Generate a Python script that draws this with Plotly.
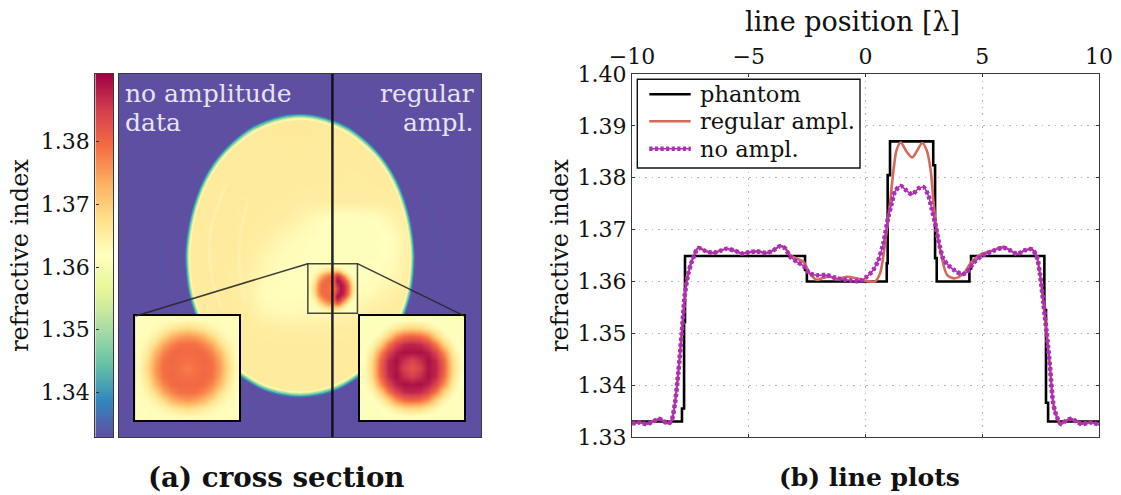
import numpy as np
import plotly.graph_objects as go

W, H = 1121, 495
FONT = "DejaVu Serif"
Z_MIN, Z_MAX = 1.3329, 1.3908

# ---- line plot data (position in wavelengths, refractive index) ----
phantom_x = [-10, -7.86, -7.86, -7.77, -7.77, -7.73, -7.73, -2.59, -2.59, -2.51, -2.51, 0.91, 0.91, 0.95, 0.95,
             1.05, 1.05, 2.90, 2.90, 2.98, 2.98, 3.05, 3.05, 4.45, 4.45, 4.52, 4.52, 7.66, 7.66, 7.73, 7.73, 7.82, 7.82, 10]
phantom_y = [1.333, 1.333, 1.3355, 1.3355, 1.3522, 1.3522, 1.3649, 1.3649, 1.3622, 1.3622, 1.36, 1.36, 1.3635, 1.3635, 1.3805,
             1.3805, 1.387, 1.387, 1.3824, 1.3824, 1.3645, 1.3645, 1.36, 1.36, 1.3625, 1.3625, 1.3649, 1.3649, 1.3545, 1.3545, 1.3366, 1.3366, 1.333, 1.333]

noampl_x = [-10, -9.66, -9.37, -9.09, -8.83, -8.66, -8.44, -8.30, -8.16, -8.02, -7.87, -7.73, -7.59, -7.44, -7.16,
            -6.87, -6.52, -6.23, -5.95, -5.59, -5.30, -5.02, -4.66, -4.23, -3.95, -3.66, -3.45, -3.23, -2.95, -2.66,
            -2.38, -2.09, -1.66, -1.23, -0.81, -0.24, 0.05, 0.33, 0.55, 0.76, 0.98, 1.12, 1.26, 1.51, 1.76, 2.0, 2.26,
            2.48, 2.69, 2.83, 2.98, 3.12, 3.33, 3.55, 3.83, 4.12, 4.33, 4.62, 4.97, 5.47, 5.90, 6.19, 6.50, 6.83, 7.12,
            7.33, 7.47, 7.62, 7.76, 7.90, 8.04, 8.19, 8.37, 8.54, 8.79, 9.04, 9.26, 9.61, 10]
noampl_y = [1.3326, 1.3328, 1.3325, 1.3330, 1.3335, 1.3331, 1.3326, 1.3333, 1.3365, 1.3423, 1.3500, 1.3577, 1.3615, 1.3638, 1.3664,
            1.3659, 1.3655, 1.3659, 1.3663, 1.3659, 1.3654, 1.3656, 1.3658, 1.3655, 1.3660, 1.3668, 1.3664, 1.3648, 1.3638, 1.3630,
            1.3615, 1.3612, 1.3612, 1.3606, 1.3603, 1.3601, 1.3609, 1.3622, 1.3641, 1.3673, 1.3725, 1.3750, 1.3773, 1.3784, 1.3775, 1.3768, 1.3779,
            1.3782, 1.3766, 1.3741, 1.3712, 1.3680, 1.3644, 1.3631, 1.3621, 1.3614, 1.3617, 1.3635, 1.3649, 1.3659, 1.3665, 1.3660, 1.3653, 1.3660, 1.3662,
            1.3648, 1.3615, 1.3558, 1.3500, 1.3436, 1.3365, 1.3339, 1.3325, 1.3330, 1.3335, 1.3330, 1.3325, 1.3328, 1.3324]

regular_x = [-10, -9.66, -9.37, -9.09, -8.83, -8.66, -8.44, -8.30, -8.16, -8.02, -7.87, -7.73, -7.59, -7.44, -7.16,
             -6.87, -6.52, -6.23, -5.95, -5.59, -5.30, -5.02, -4.66, -4.23, -3.95, -3.66, -3.45, -3.23, -2.95, -2.66,
             -2.38, -2.09, -1.81, -1.52, -1.23, -0.81, -0.38, 0.05, 0.41, 0.62, 0.76, 0.91, 1.05, 1.12, 1.33, 1.51, 1.76, 2.0, 2.22,
             2.43, 2.62, 2.79, 2.93, 3.08, 3.26, 3.5, 3.83, 4.19, 4.55, 4.97, 5.47, 5.90, 6.19, 6.50, 6.83, 7.12,
             7.33, 7.47, 7.62, 7.76, 7.90, 8.04, 8.19, 8.37, 8.54, 8.79, 9.04, 9.26, 9.61, 10]
regular_y = [1.3326, 1.3328, 1.3325, 1.3330, 1.3335, 1.3331, 1.3326, 1.3333, 1.3365, 1.3423, 1.3500, 1.3577, 1.3615, 1.3640, 1.3665,
             1.3659, 1.3655, 1.3659, 1.3663, 1.3659, 1.3654, 1.3656, 1.3658, 1.3655, 1.3660, 1.3668, 1.3665, 1.3651, 1.3644, 1.3638,
             1.3615, 1.3603, 1.3607, 1.3609, 1.3604, 1.3609, 1.3606, 1.3601, 1.3600, 1.3615, 1.3648, 1.3699, 1.3750, 1.3782, 1.3853, 1.3868, 1.3850, 1.3839, 1.3853,
             1.3867, 1.3853, 1.3815, 1.3744, 1.3692, 1.3648, 1.3612, 1.3606, 1.3615, 1.3638, 1.3653, 1.3660, 1.3667, 1.3660, 1.3653, 1.3660, 1.3662,
             1.3648, 1.3615, 1.3558, 1.3500, 1.3436, 1.3365, 1.3339, 1.3325, 1.3330, 1.3335, 1.3330, 1.3325, 1.3328, 1.3324]

# ---- cross section: index excess above 1.3, in units of 0.001 ----
INDEX_BASE = 1.3
section_u = list(range(-7, 8))
section_v = list(range(8, -9, -1))
section_rows = [
    [65.6, 65.6, 65.6, 65.6, 65.6, 65.7, 65.7, 65.8, 65.7, 65.7, 65.6, 65.6, 65.6, 65.6, 65.6],
    [65.6, 65.6, 65.6, 65.6, 65.7, 65.8, 65.9, 65.9, 65.8, 65.8, 65.7, 65.6, 65.6, 65.6, 65.6],
    [65.6, 65.6, 65.6, 65.8, 65.8, 65.6, 65.8, 65.8, 65.7, 65.7, 65.6, 65.6, 65.6, 65.6, 65.6],
    [65.6, 65.6, 65.8, 65.6, 65.7, 65.8, 65.7, 65.7, 65.6, 65.5, 65.5, 65.5, 65.6, 65.6, 65.6],
    [65.6, 65.8, 65.6, 65.7, 65.8, 65.7, 65.6, 65.6, 65.5, 65.5, 65.4, 65.5, 65.5, 65.6, 65.6],
    [65.6, 65.8, 65.6, 65.7, 65.6, 65.6, 65.5, 65.2, 65.0, 65.2, 65.2, 65.2, 65.4, 65.6, 65.6],
    [65.6, 65.7, 65.6, 65.8, 65.6, 65.5, 65.2, 64.0, 62.5, 61.4, 61.4, 61.6, 63.5, 65.5, 65.6],
    [65.6, 65.6, 65.7, 65.7, 65.5, 65.0, 63.4, 62.6, 61.8, 61.2, 61.2, 61.3, 62.0, 65.0, 65.6],
    [65.6, 65.7, 65.6, 65.6, 65.5, 63.8, 62.6, 62.2, 61.7, 61.2, 61.2, 61.4, 62.2, 65.0, 65.6],
    [65.6, 65.6, 65.7, 65.5, 65.0, 63.2, 62.2, 62.0, 61.8, 61.6, 61.6, 61.9, 62.8, 65.4, 65.6],
    [65.6, 65.6, 65.6, 65.6, 64.8, 62.4, 62.0, 62.0, 62.0, 62.0, 62.3, 62.9, 64.5, 65.5, 65.6],
    [65.6, 65.6, 65.6, 65.6, 65.2, 63.2, 62.6, 62.8, 62.9, 63.4, 64.0, 65.0, 65.4, 65.6, 65.6],
    [65.6, 65.6, 65.6, 65.6, 65.6, 65.2, 65.0, 65.0, 65.0, 65.2, 65.4, 65.6, 65.6, 65.6, 65.6],
    [65.6, 65.6, 65.6, 65.6, 65.6, 65.6, 65.6, 65.6, 65.6, 65.6, 65.6, 65.6, 65.6, 65.6, 65.6],
    [65.6, 65.6, 65.6, 65.6, 65.6, 65.6, 65.6, 65.6, 65.6, 65.6, 65.6, 65.6, 65.6, 65.6, 65.6],
    [65.6, 65.6, 65.6, 65.6, 65.6, 65.6, 65.6, 65.6, 65.6, 65.6, 65.6, 65.6, 65.6, 65.6, 65.6],
    [65.6, 65.6, 65.6, 65.6, 65.6, 65.6, 65.6, 65.6, 65.6, 65.6, 65.6, 65.6, 65.6, 65.6, 65.6],
]
blob_noampl = [
    [62.3, 62.3, 62.3, 62.4, 62.6, 62.8, 63.2, 62.8, 62.6, 62.4, 62.3, 62.3, 62.3],
    [62.3, 62.3, 62.6, 64.0, 65.8, 67.5, 68.3, 67.5, 65.8, 64.0, 62.6, 62.3, 62.3],
    [62.3, 62.6, 64.8, 68.3, 72.5, 74.5, 75.5, 74.5, 72.5, 68.3, 64.8, 62.6, 62.3],
    [62.4, 64.0, 68.3, 74.0, 77.2, 79.0, 79.2, 79.0, 77.2, 74.0, 68.3, 64.0, 62.4],
    [62.6, 65.8, 72.5, 77.2, 79.6, 79.9, 79.6, 79.9, 79.6, 77.2, 72.5, 65.8, 62.6],
    [62.8, 67.5, 74.5, 79.0, 79.9, 79.2, 79.0, 79.2, 79.9, 79.0, 74.5, 67.5, 62.8],
    [63.2, 68.3, 75.5, 79.2, 79.6, 79.0, 77.6, 79.0, 79.6, 79.2, 75.5, 68.3, 63.2],
    [62.8, 67.5, 74.5, 79.0, 79.9, 79.2, 79.0, 79.2, 79.9, 79.0, 74.5, 67.5, 62.8],
    [62.6, 65.8, 72.5, 77.2, 79.6, 79.9, 79.6, 79.9, 79.6, 77.2, 72.5, 65.8, 62.6],
    [62.4, 64.0, 68.3, 74.0, 77.2, 79.0, 79.2, 79.0, 77.2, 74.0, 68.3, 64.0, 62.4],
    [62.3, 62.6, 64.8, 68.3, 72.5, 74.5, 75.5, 74.5, 72.5, 68.3, 64.8, 62.6, 62.3],
    [62.3, 62.3, 62.6, 64.0, 65.8, 67.5, 68.3, 67.5, 65.8, 64.0, 62.6, 62.3, 62.3],
    [62.3, 62.3, 62.3, 62.4, 62.6, 62.8, 63.2, 62.8, 62.6, 62.4, 62.3, 62.3, 62.3],
]
blob_regular = [
    [61.2, 61.2, 61.2, 61.3, 61.6, 62.0, 62.4, 62.0, 61.6, 61.3, 61.2, 61.2, 61.2],
    [61.2, 61.2, 61.6, 63.5, 66.0, 68.5, 69.0, 68.5, 66.0, 63.5, 61.6, 61.2, 61.2],
    [61.2, 61.6, 64.0, 69.0, 76.0, 79.5, 80.5, 79.5, 76.0, 69.0, 64.0, 61.6, 61.2],
    [61.3, 63.5, 69.0, 78.0, 84.0, 87.0, 87.5, 87.0, 84.0, 78.0, 69.0, 63.5, 61.3],
    [61.6, 66.0, 76.0, 84.0, 88.0, 89.5, 89.0, 89.5, 88.0, 84.0, 76.0, 66.0, 61.6],
    [62.0, 68.5, 79.5, 87.0, 89.5, 86.5, 84.5, 86.5, 89.5, 87.0, 79.5, 68.5, 62.0],
    [62.4, 69.0, 80.5, 87.5, 89.0, 84.5, 82.5, 84.5, 89.0, 87.5, 80.5, 69.0, 62.4],
    [62.0, 68.5, 79.5, 87.0, 89.5, 86.5, 84.5, 86.5, 89.5, 87.0, 79.5, 68.5, 62.0],
    [61.6, 66.0, 76.0, 84.0, 88.0, 89.5, 89.0, 89.5, 88.0, 84.0, 76.0, 66.0, 61.6],
    [61.3, 63.5, 69.0, 78.0, 84.0, 87.0, 87.5, 87.0, 84.0, 78.0, 69.0, 63.5, 61.3],
    [61.2, 61.6, 64.0, 69.0, 76.0, 79.5, 80.5, 79.5, 76.0, 69.0, 64.0, 61.6, 61.2],
    [61.2, 61.2, 61.6, 63.5, 66.0, 68.5, 69.0, 68.5, 66.0, 63.5, 61.6, 61.2, 61.2],
    [61.2, 61.2, 61.2, 61.3, 61.6, 62.0, 62.4, 62.0, 61.6, 61.3, 61.2, 61.2, 61.2],
]
# outline of the sample in the cross section (top, then left side, bottom, right side)
disc_u = [0, -0.95, -1.85, -2.7, -3.45, -4.15, -4.75, -5.25, -5.65, -5.95, -6.15, -6.25, -6.2, -6.05, -5.75, -5.35,
          -4.85, -4.25, -3.55, -2.8, -1.95, -1.0, 0, 1.0, 1.95, 2.8, 3.55, 4.25, 4.85, 5.35, 5.75, 6.05, 6.2, 6.25,
          6.15, 5.95, 5.65, 5.25, 4.75, 4.15, 3.45, 2.7, 1.85, 0.95, 0]
disc_v = [7.72, 7.62, 7.35, 6.95, 6.4, 5.75, 5.0, 4.15, 3.2, 2.2, 1.15, 0.05, -1.05, -2.1, -3.1, -4.05,
          -4.9, -5.65, -6.35, -6.9, -7.35, -7.62, -7.73, -7.62, -7.35, -6.9, -6.35, -5.65, -4.9, -4.05, -3.1, -2.1, -1.05, 0.05,
          1.15, 2.2, 3.2, 4.15, 5.0, 5.75, 6.4, 6.95, 7.35, 7.62, 7.72]
# faint reconstruction rings outside and inside the sample
outer_rings = [
    ([2.95, 3.5, 4.05], [8.19, 8.0, 7.64]),
    ([-3.65, -2.92], [8.0, 8.19]),
    ([-7.5, -7.65, -7.5], [-1.72, -0.25, 1.22]),
    ([6.62, 7.36, 7.72], [3.79, 1.95, -0.25]),
    ([2.4, 3.32], [-8.41, -8.14]),
    ([-3.28, -2.55], [-8.23, -8.5]),
]
inner_rings = [
    ([-2.9, -3.3, -3.3, -3.0], [3.0, 1.0, -1.0, -2.5]),
    ([-4.0, -4.9, -4.9, -4.3], [4.0, 1.5, -1.0, -3.0]),
]
legend_labels = ["phantom", "regular ampl.", "no ampl."]
scale_ticks = [1.34, 1.35, 1.36, 1.37, 1.38]
line_x_ticks = [-10, -5, 0, 5, 10]
line_y_ticks = [1.33, 1.34, 1.35, 1.36, 1.37, 1.38, 1.39, 1.40]

PHANTOM_COL, REGULAR_COL, NOAMPL_COL = "#000000", "#d5695c", "#ad2fb5"
BEAD_DASH = "3.2px,2.4px"


def fx(px):
    return px / W


def fy(py):
    return 1 - py / H


def idx(rows):
    return (np.array(rows) / 1000 + INDEX_BASE).tolist()


hm = dict(colorscale="Spectral_r", zmin=Z_MIN, zmax=Z_MAX, showscale=False, hoverinfo="skip")
fig = go.Figure()

# colour scale strip
levels = np.linspace(Z_MIN, Z_MAX, 256)
fig.add_trace(go.Heatmap(x=[0], y=levels.tolist(), z=[[v] for v in levels], xaxis="x", yaxis="y", **hm))

# cross section
fig.add_trace(go.Heatmap(x=section_u, y=section_v, z=idx(section_rows), zsmooth="best", xaxis="x2", yaxis="y2", **hm))
blob_mixed = [a[:7] + b[7:] for a, b in zip(blob_noampl, blob_regular)]
fig.add_trace(go.Heatmap(z=idx(blob_mixed), x0=0.54, dx=0.2104, y0=-0.555, dy=-0.2104, zsmooth="best",
                         xaxis="x2", yaxis="y2", **hm))

# soft rim of the sample, then the surrounding medium
rims = [(0.967, "#fdf6bb"), (0.977, "#e6f598"), (0.984, "#abdda4"), (0.992, "#66c2a5"), (1.002, "#3288bd"), (1.012, "#5e4fa2")]
for s, col in rims:
    fig.add_trace(go.Scatter(
        x=[-11, 11, 11, -11, -11, None] + [u * s for u in disc_u],
        y=[11, 11, -11, -11, 11, None] + [v * s for v in disc_v],
        mode="lines", line=dict(width=0, shape="spline", smoothing=1), fill="toself", fillcolor=col,
        xaxis="x2", yaxis="y2", showlegend=False, hoverinfo="skip"))
for ru, rv in outer_rings:
    fig.add_trace(go.Scatter(x=ru, y=rv, mode="lines", xaxis="x2", yaxis="y2", showlegend=False, hoverinfo="skip",
                             line=dict(color="rgba(70,95,175,0.45)", width=2.5, shape="spline")))
for ru, rv in inner_rings:
    fig.add_trace(go.Scatter(x=ru, y=rv, mode="lines", xaxis="x2", yaxis="y2", showlegend=False, hoverinfo="skip",
                             line=dict(color="rgba(255,250,205,0.3)", width=3, shape="spline")))

# insets
fig.add_trace(go.Heatmap(z=idx(blob_noampl), zsmooth="best", xaxis="x4", yaxis="y4", **hm))
fig.add_trace(go.Heatmap(z=idx(blob_regular), zsmooth="best", xaxis="x5", yaxis="y5", **hm))

# line plots
fig.add_trace(go.Scatter(x=phantom_x, y=phantom_y, name=legend_labels[0], mode="lines", showlegend=False,
                         line=dict(color=PHANTOM_COL, width=2.6), xaxis="x3", yaxis="y3"))
fig.add_trace(go.Scatter(x=regular_x, y=regular_y, name=legend_labels[1], mode="lines", showlegend=False,
                         line=dict(color=REGULAR_COL, width=2.6, shape="spline", smoothing=0.8), xaxis="x3", yaxis="y3"))
fig.add_trace(go.Scatter(x=noampl_x, y=noampl_y, mode="lines", showlegend=False, hoverinfo="skip",
                         line=dict(color=NOAMPL_COL, width=1.6, shape="spline", smoothing=0.8), xaxis="x3", yaxis="y3"))
fig.add_trace(go.Scatter(x=noampl_x, y=noampl_y, name=legend_labels[2], mode="lines", showlegend=False,
                         line=dict(color=NOAMPL_COL, width=4.6, dash=BEAD_DASH, shape="spline", smoothing=0.8),
                         xaxis="x3", yaxis="y3"))

frame = dict(showline=True, mirror=True, linecolor="#3a3a3a", linewidth=1.4, showgrid=False, zeroline=False, automargin=False)
font = dict(family=FONT, size=22, color="#111111")
title_font = dict(family=FONT, size=24, color="#111111")
hidden = dict(frame, showticklabels=False, ticks="")
inset = dict(hidden, range=[-0.5, 12.5], linecolor="#000000", linewidth=1.8)
grid = dict(showgrid=True, griddash="1.5px,5px", gridcolor="#b5b5b5", gridwidth=1)


def text(label, px, py, size, xanchor="center", color="#111111"):
    return dict(text=label, x=fx(px), y=fy(py), xref="paper", yref="paper", xanchor=xanchor, yanchor="middle",
                showarrow=False, font=dict(family=FONT, size=size, color=color))


def paper_line(x0, y0, x1, y1, **line):
    return dict(type="line", xref="paper", yref="paper", x0=fx(x0), y0=fy(y0), x1=fx(x1), y1=fy(y1), line=line)


PANEL_TEXT = "#e6e4ee"
LEGEND_ROWS = [94.3, 121.3, 148.7]

layout = dict(
    width=W, height=H, margin=dict(l=0, r=0, t=0, b=0, autoexpand=False), paper_bgcolor="white", plot_bgcolor="white",
    font=font, showlegend=False,
    xaxis=dict(hidden, domain=[fx(95.3), fx(113.2)], anchor="y"),
    yaxis=dict(frame, domain=[fy(437), fy(74)], anchor="x", range=[Z_MIN, Z_MAX], tickvals=scale_ticks,
               tickformat=".2f", ticks="inside", ticklen=3, tickcolor="#333333", tickfont=font, automargin=True,
               title=dict(text="refractive index", font=title_font, standoff=5)),
    xaxis2=dict(hidden, domain=[fx(118.6), fx(481.3)], anchor="y2", range=[-10, 10]),
    yaxis2=dict(hidden, domain=[fy(437), fy(74)], anchor="x2", range=[-10, 10]),
    xaxis3=dict(frame, domain=[fx(632), fx(1099)], anchor="y3", side="top", range=[-10, 10], tickvals=line_x_ticks,
                ticks="inside", ticklen=3, tickcolor="#333333", mirror="ticks", tickfont=font, **grid),
    yaxis3=dict(frame, domain=[fy(437), fy(74)], anchor="x3", range=[1.33, 1.40], tickvals=line_y_ticks,
                tickformat=".2f", ticks="inside", ticklen=3, tickcolor="#333333", mirror="ticks", tickfont=font,
                automargin=True, title=dict(text="refractive index", font=title_font, standoff=2), **grid),
    xaxis4=dict(inset, domain=[fx(135.3), fx(239.3)], anchor="y4"),
    yaxis4=dict(inset, domain=[fy(420), fy(316)], anchor="x4"),
    xaxis5=dict(inset, domain=[fx(360), fx(464)], anchor="y5"),
    yaxis5=dict(inset, domain=[fy(420), fy(316)], anchor="x5"),
    shapes=[
        dict(type="line", xref="x2", yref="y2", x0=1.79, x1=1.79, y0=-10, y1=10,
             line=dict(color="rgba(10,10,20,0.9)", width=2.5)),
        dict(type="rect", xref="x2", yref="y2", x0=0.435, x1=3.17, y0=-3.18, y1=-0.45,
             line=dict(color="rgba(40,40,40,0.85)", width=1.5)),
        dict(type="line", xref="x2", yref="y2", x0=0.435, y0=-0.45, x1=-9.06, y1=-3.33,
             line=dict(color="rgba(40,40,40,0.9)", width=1.5)),
        dict(type="line", xref="x2", yref="y2", x0=3.17, y0=-0.45, x1=9.05, y1=-3.33,
             line=dict(color="rgba(40,40,40,0.9)", width=1.5)),
        # legend box and samples
        dict(type="rect", xref="paper", yref="paper", x0=fx(637.3), x1=fx(860), y0=fy(168), y1=fy(79.3),
             fillcolor="white", line=dict(color="#111111", width=1.4)),
        paper_line(649.3, LEGEND_ROWS[0], 690.7, LEGEND_ROWS[0], color=PHANTOM_COL, width=2.6),
        paper_line(649.3, LEGEND_ROWS[1], 690.7, LEGEND_ROWS[1], color=REGULAR_COL, width=2.6),
        paper_line(649.3, LEGEND_ROWS[2], 690.7, LEGEND_ROWS[2], color=NOAMPL_COL, width=1.6),
        paper_line(649.3, LEGEND_ROWS[2], 690.7, LEGEND_ROWS[2], color=NOAMPL_COL, width=4.6, dash=BEAD_DASH),
    ],
    annotations=[
        text("no amplitude", 123, 93, 25, "left", PANEL_TEXT),
        text("data", 123, 122, 25, "left", PANEL_TEXT),
        text("regular", 476, 93, 25, "right", PANEL_TEXT),
        text("ampl.", 476, 122, 25, "right", PANEL_TEXT),
        text("<b>(a) cross section</b>", 276, 477, 27.7),
        text("<b>(b) line plots</b>", 869.5, 477, 25),
        text("line position [λ]", 852.5, 21, 27),
        text(legend_labels[0], 698, LEGEND_ROWS[0], 22.5, "left"),
        text(legend_labels[1], 698, LEGEND_ROWS[1], 22.5, "left"),
        text(legend_labels[2], 698, LEGEND_ROWS[2], 22.5, "left"),
    ],
)
fig.update_layout(**layout)
fig.write_html("out.html", config={"displayModeBar": False}, post_script="document.body.style.margin='0';")
